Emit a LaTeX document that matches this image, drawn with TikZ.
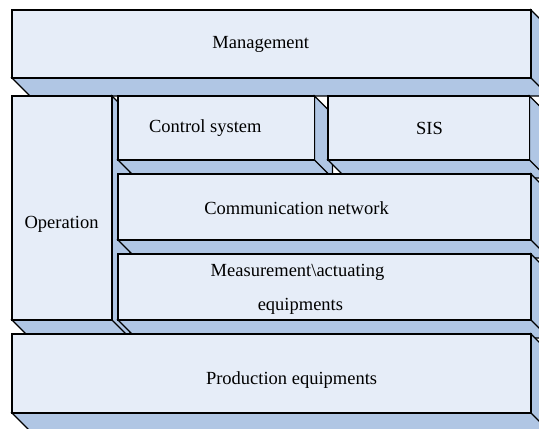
\documentclass[tikz,border=0pt]{standalone}
\usepackage{fontspec}
\setmainfont{Liberation Serif}
\newfontfamily\layerfont{Liberation Serif}
\usepackage{tikz}
\definecolor{facebg}{RGB}{230,237,248}
\definecolor{sidebg}{RGB}{176,198,228}
\newcommand{\dep}{18}
% one extruded layer: front face (#1,#2)-(#3,#4), depth towards lower right
\newcommand{\layer}[4]{%
  \draw[side] (#3,#2) -- ++(\dep,\dep) -- (#3+\dep,#4+\dep) -- (#1+\dep,#4+\dep) -- (#1,#4) -- (#3,#4) -- cycle;
  \draw[side] (#3,#4) -- ++(\dep,\dep);
  \draw[face] (#1,#2) rectangle (#3,#4);}

\begin{document}
\begin{tikzpicture}[x=1pt, y=-1pt,
  face/.style={draw=black, fill=facebg, line width=1.3pt, line join=miter},
  side/.style={draw=black, fill=sidebg, line width=1.3pt, line join=miter},
  lbl/.style={font=\layerfont\fontsize{18.5}{22}\selectfont, anchor=base, inner sep=0pt}]
  \useasboundingbox (0,0) rectangle (539,429);
  \clip (0,0) rectangle (539,429);
  \fill[white] (0,0) rectangle (539,429);
  \layer{12}{10}{531}{78}
  \layer{12}{96}{112}{320}
  \layer{118}{96}{314.5}{160}
  \layer{328}{96}{529.5}{160}
  \layer{118}{174}{531}{240}
  \layer{118}{254}{531}{320}
  \layer{12}{334}{531}{413}
  \node[lbl] (mgmt) at (260.7,48.3) {Management};
  \node[lbl] (oper) at (61.6,228.3) {Operation};
  \node[lbl] (ctrl) at (205.3,132.7) {Control system};
  \node[lbl] (sis) at (429.5,134) {SIS};
  \node[lbl] (comm) at (296.5,214) {Communication network};
  \node[lbl] (meas) at (297.5,276) {Measurement\textbackslash actuating};
  \node[lbl] (equip) at (300.4,310) {equipments};
  \node[lbl] (prod) at (291.6,384) {Production equipments};
\end{tikzpicture}
\end{document}
